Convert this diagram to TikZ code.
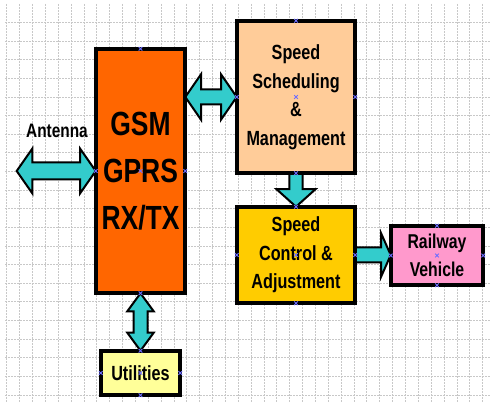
\documentclass[tikz,border=0pt]{standalone}
\usepackage{fontspec}
\setmainfont{Liberation Sans}[FakeStretch=0.79]
\usetikzlibrary{calc}
\definecolor{gsmorange}{HTML}{FF6600}
\definecolor{peach}{HTML}{FFCC99}
\definecolor{amber}{HTML}{FFCC00}
\definecolor{pinkbox}{HTML}{FF99CC}
\definecolor{paleyellow}{HTML}{FFFF99}
\definecolor{teal}{HTML}{33CCCC}
\definecolor{handle}{RGB}{110,110,255}
\definecolor{gridgray}{RGB}{200,200,200}
\tikzset{
  box/.style={draw=black, line width=2.6pt, rectangle, align=center, inner sep=0pt},
  midtext/.style={font={\fontsize{20.5}{28.5}\selectfont\bfseries}},
  blockarrow/.style={draw=black, fill=teal, line width=2pt, line join=miter},
  gridline/.style={draw=gridgray, line width=0.6pt, dash pattern=on 2pt off 1pt},
  hmark/.style={draw=handle, line width=0.8pt}
}
\newcommand\hdarrow[5]{%
  \draw[blockarrow] let \p1=(#1), \p2=(#2) in
    (\x1,\y1) -- (\x1+#5,\y1+#4) -- (\x1+#5,\y1+#3) -- (\x2-#5,\y1+#3) -- (\x2-#5,\y1+#4)
    -- (\x2,\y1) -- (\x2-#5,\y1-#4) -- (\x2-#5,\y1-#3) -- (\x1+#5,\y1-#3) -- (\x1+#5,\y1-#4) -- cycle;}
\newcommand\vdarrow[5]{%
  \draw[blockarrow] let \p1=(#1), \p2=(#2) in
    (\x1,\y1) -- (\x1+#4,\y1-#5) -- (\x1+#3,\y1-#5) -- (\x1+#3,\y2+#5) -- (\x1+#4,\y2+#5)
    -- (\x1,\y2) -- (\x1-#4,\y2+#5) -- (\x1-#3,\y2+#5) -- (\x1-#3,\y1-#5) -- (\x1-#4,\y1-#5) -- cycle;}
\newcommand\rarrow[5]{%
  \draw[blockarrow] let \p1=(#1), \p2=(#2) in
    (\x1,\y1+#3) -- (\x2-#5,\y1+#3) -- (\x2-#5,\y1+#4) -- (\x2,\y1) -- (\x2-#5,\y1-#4)
    -- (\x2-#5,\y1-#3) -- (\x1,\y1-#3) -- cycle;}
\newcommand\darrow[5]{%
  \draw[blockarrow] let \p1=(#1), \p2=(#2) in
    (\x1+#3,\y1) -- (\x1+#3,\y2+#5) -- (\x1+#4,\y2+#5) -- (\x1,\y2) -- (\x1-#4,\y2+#5)
    -- (\x1-#3,\y2+#5) -- (\x1-#3,\y1) -- cycle;}
\newcommand\hx[1]{\draw[hmark] ($(#1)+(-1.8,-1.8)$) -- ($(#1)+(1.8,1.8)$) ($(#1)+(-1.8,1.8)$) -- ($(#1)+(1.8,-1.8)$);}
\begin{document}
\begin{tikzpicture}[x=1pt,y=-1pt]
\useasboundingbox (0,0) rectangle (490,403);
\fill[white] (0,0) rectangle (490,403);
% grid
\foreach \k in {0,...,20} {\draw[gridline] (5,22.3+18.63*\k) -- (490,22.3+18.63*\k);}
\foreach \k in {0,...,37} {\draw[gridline] (6.7+12.86*\k,4) -- (6.7+12.86*\k,403);}
% nodes
\node[box, fill=gsmorange, minimum width=87pt, minimum height=242pt,
      font={\fontsize{33.5}{47}\selectfont\bfseries}] (gsm) at (140.5,171) {GSM\\GPRS\\RX/TX};
\node[box, fill=peach, minimum width=116pt, minimum height=150pt, midtext] (sched) at (296,97)
      {Speed\\Scheduling\\\&\\Management};
\node[box, fill=amber, minimum width=116pt, minimum height=94pt, midtext] (ctrl) at (296,255)
      {Speed\\Control \&\\Adjustment};
\node[box, fill=pinkbox, minimum width=90pt, minimum height=57pt,
      font={\fontsize{20}{27.7}\selectfont\bfseries}] (rail) at (437,255.5) {Railway\\Vehicle};
\node[box, fill=paleyellow, minimum width=77pt, minimum height=42pt,
      font={\fontsize{20.5}{24}\selectfont\bfseries}] (util) at (140.5,373) {Utilities};
\node[font={\fontsize{19.5}{22}\selectfont\bfseries}] (antlabel) at (57,131) {Antenna};
\coordinate (antend) at (16.7,171);
\coordinate (gsmr) at (gsm.east |- sched.west);
% arrows
\hdarrow{antend}{gsm.west}{8.5pt}{22.5pt}{15.7pt}
\hdarrow{gsmr}{sched.west}{7.5pt}{22.7pt}{15.7pt}
\darrow{sched.south}{ctrl.north}{6.7pt}{19.5pt}{17.5pt}
\rarrow{ctrl.east}{rail.west}{7.5pt}{21.5pt}{9.5pt}
\vdarrow{gsm.south}{util.north}{7pt}{13.2pt}{18pt}
% redraw box borders over arrow ends
\foreach \n in {gsm,sched,ctrl,rail,util} {\draw[line width=2.6pt] (\n.north west) rectangle (\n.south east);}
% connection handles
\foreach \n in {gsm,sched,ctrl,rail,util} {
  \hx{\n.north} \hx{\n.south} \hx{\n.west} \hx{\n.east} \hx{\n.center}
}
\end{tikzpicture}
\end{document}
